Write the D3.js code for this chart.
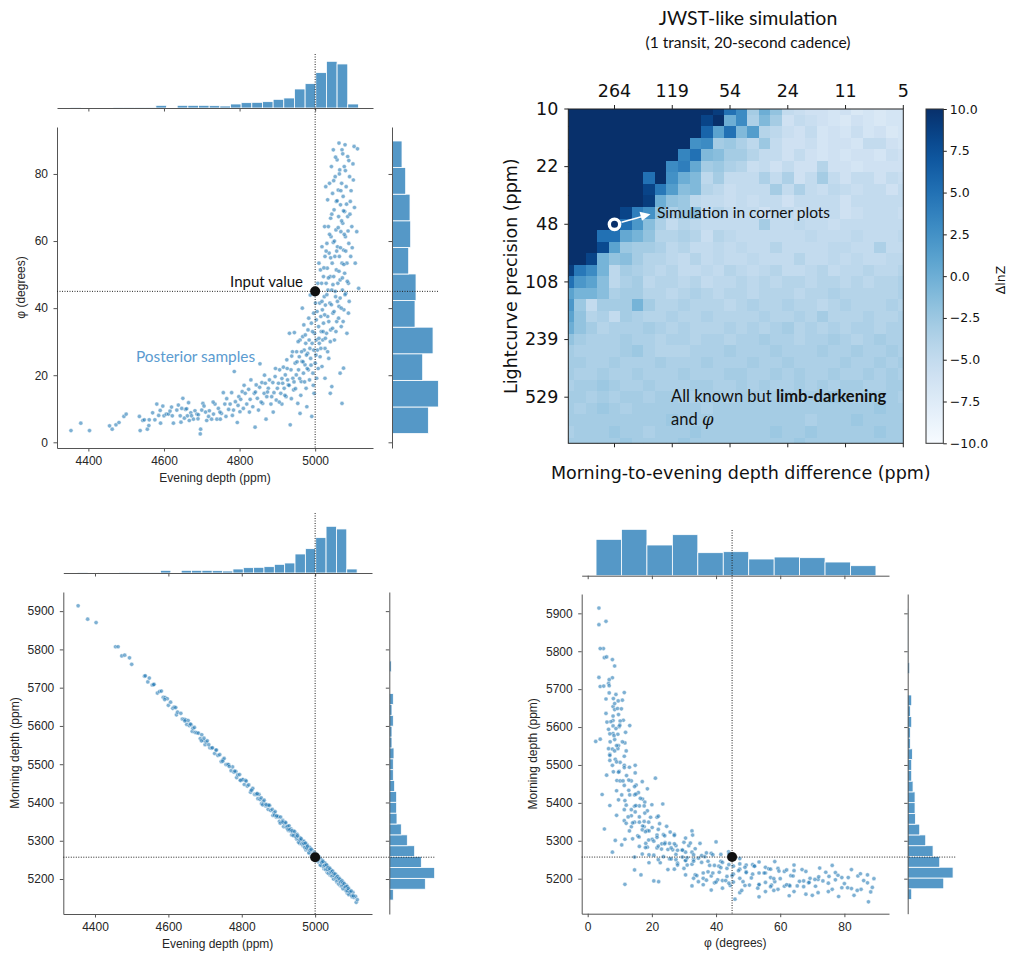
<!DOCTYPE html>
<html>
<head>
<meta charset="utf-8">
<script src="https://cdn.jsdelivr.net/npm/d3@7"></script>
<style>
body { margin: 0; background: #fff; }
svg text { font-family: "Liberation Sans", Arial, sans-serif; }
.ann { font-family: Lato, "Noto Sans", sans-serif; }
.dv { font-family: "DejaVu Sans", sans-serif; }
</style>
</head>
<body>
<script>
// ---------- data ----------

// posterior samples: [evening depth (ppm), phi (deg), morning depth (ppm)]
var posterior = [
[4354,3.5,5914],[4380,5.7,5879],[4403,3.5,5870],[4456,4.9,5807],[4463,3.9,5807],[4473,5.2,5783],[4481,5.9,5785],[4494,7.7,5778],[4500,8.4,5761],[4535,7.7,5730],
[4537,3.5,5731],[4544,6.5,5715],[4548,6.7,5725],[4556,3.9,5707],[4561,6.7,5709],[4570,8.8,5686],[4576,6.7,5690],[4581,11.4,5691],[4586,8.0,5675],[4591,5.7,5674],
[4597,10.8,5671],[4600,7.9,5654],[4606,8.4,5662],[4612,8.4,5646],[4616,9.3,5649],[4622,7.9,5629],[4625,5.7,5636],[4634,9.6,5633],[4638,11.1,5618],[4643,7.9,5617],
[4647,10.1,5616],[4650,13.1,5604],[4654,7.2,5614],[4657,9.8,5601],[4662,7.9,5603],[4665,11.8,5586],[4667,6.5,5594],[4671,8.8,5596],[4673,7.9,5583],[4678,6.9,5582],
[4682,9.4,5581],[4687,8.4,5567],[4691,8.2,5577],[4696,2.5,5562],[4697,3.9,5568],[4700,9.6,5551],[4703,11.6,5558],[4706,10.8,5561],[4713,6.5,5543],[4718,7.7,5542],
[4720,9.4,5543],[4726,6.9,5528],[4731,8.4,5537],[4735,11.4,5523],[4740,6.9,5525],[4744,10.1,5507],[4749,6.9,5512],[4752,8.6,5515],[4757,14.8,5499],[4761,11.4,5499],
[4764,7.7,5499],[4771,9.8,5483],[4775,11.4,5493],[4779,14.8,5479],[4784,9.6,5481],[4786,21.1,5465],[4789,12.1,5472],[4794,5.9,5473],[4798,13.6,5458],[4801,9.1,5459],
[4803,12.8,5460],[4807,15.1,5447],[4810,10.1,5458],[4815,14.6,5443],[4819,11.4,5446],[4824,15.8,5427],[4828,12.8,5433],[4830,18.6,5437],[4835,10.6,5421],[4839,14.6,5421],
[4841,4.5,5422],[4844,17.1,5410],[4847,13.1,5421],[4850,9.6,5408],[4853,16.4,5412],[4854,23.4,5397],[4859,17.8,5402],[4861,11.6,5406],[4865,14.6,5391],[4868,17.6,5392],
[4870,6.9,5393],[4872,13.6,5382],[4876,16.1,5392],[4879,18.6,5379],[4883,11.4,5382],[4885,13.6,5366],[4888,17.8,5373],[4891,14.8,5376],[4894,19.6,5362],[4897,12.6,5363],
[4900,16.1,5363],[4903,17.6,5351],[4906,21.6,5362],[4909,14.6,5349],[4912,11.4,5353],[4914,17.6,5337],[4916,22.4,5345],[4918,16.1,5349],[4921,20.1,5335],[4923,13.6,5337],
[4925,24.6,5338],[4927,18.6,5327],[4929,17.1,5339],[4932,32.5,5326],[4934,5.2,5331],[4936,21.6,5315],[4938,25.7,5323],[4941,19.1,5326],[4943,15.6,5313],[4945,32.7,5315],
[4947,23.6,5316],[4950,20.1,5304],[4951,27.0,5317],[4954,11.6,5304],[4956,21.6,5309],[4958,25.5,5293],[4960,8.6,5301],[4960,30.5,5307],[4963,18.1,5293],[4965,24.1,5295],
[4966,40.0,5297],[4967,31.5,5287],[4969,20.6,5299],[4971,27.5,5287],[4973,23.1,5292],[4975,29.5,5276],[4976,16.1,5285],[4978,10.6,5289],[4980,26.5,5276],[4981,33.5,5279],
[4982,21.6,5281],[4984,30.5,5270],[4985,18.6,5283],[4987,43.9,5271],[4988,25.0,5277],[4990,35.5,5261],[4991,7.7,5270],[4992,29.5,5275],[4994,20.6,5262],[4996,27.5,5264],
[4996,38.5,5267],[4997,14.6,5257],[4998,32.5,5270],[5000,23.6,5258],[5001,41.5,5264],[5003,30.5,5248],[5003,36.5,5258],[5004,19.1,5263],[5006,27.5,5250],[5007,47.4,5253],
[5009,34.5,5254],[5010,53.4,5244],[5011,29.5,5257],[5012,41.5,5246],[5013,25.5,5252],[5014,51.4,5237],[5015,37.5,5246],[5016,33.0,5251],[5017,47.4,5239],[5018,22.6,5242],
[5018,58.3,5245],[5019,39.5,5235],[5020,30.5,5248],[5022,49.4,5236],[5022,35.5,5243],[5024,43.4,5227],[5025,64.3,5236],[5026,28.0,5241],[5026,55.4,5230],[5027,40.9,5233],
[5028,76.2,5235],[5029,47.4,5225],[5030,32.5,5238],[5031,59.3,5227],[5032,51.9,5233],[5033,37.5,5218],[5033,72.3,5228],[5034,45.4,5233],[5035,64.3,5221],[5036,25.0,5224],
[5037,56.4,5226],[5038,77.2,5216],[5039,41.5,5229],[5040,49.4,5218],[5041,66.8,5224],[5041,33.5,5210],[5042,61.3,5219],[5043,82.2,5224],[5044,45.4,5212],[5045,53.4,5215],
[5046,74.2,5217],[5047,38.5,5207],[5048,59.6,5220],[5048,87.2,5210],[5049,49.4,5216],[5050,69.3,5201],[5051,30.5,5210],[5052,55.4,5215],[5053,79.2,5203],[5054,43.4,5206],
[5055,63.3,5208],[5056,71.8,5198],[5056,51.4,5212],[5057,36.0,5201],[5058,84.2,5207],[5059,58.3,5192],[5060,47.4,5201],[5061,75.2,5206],[5062,67.3,5194],[5063,40.5,5197],
[5063,89.2,5200],[5064,55.4,5190],[5065,81.2,5203],[5066,48.4,5192],[5067,70.8,5198],[5068,62.8,5183],[5069,34.5,5192],[5070,77.2,5197],[5071,53.4,5185],[5071,87.2,5189],
[5072,45.4,5191],[5073,65.3,5181],[5074,73.3,5194],[5075,57.3,5183],[5076,39.5,5189],[5077,82.2,5174],[5078,50.4,5183],[5078,68.8,5189],[5079,88.7,5177],[5080,61.3,5180],
[5081,44.4,5182],[5082,76.2,5172],[5084,53.4,5184],[5086,85.2,5172],[5086,67.3,5179],[5088,47.4,5163],[5089,59.3,5172],[5091,79.2,5176],[5093,71.8,5163],[5094,55.4,5166],
[5097,64.3,5166],[5101,78.2,5153],[5103,88.2,5165],[5106,53.4,5152],[5110,62.8,5155],[5112,87.5,5139],[5115,45.9,5146],[5075,22.1,5192],[5071,11.6,5185],[5066,20.6,5194],
[5040,14.6,5223],[5044,16.6,5210],[5026,19.1,5242],[5088,38.5,5170],[5084,32.5,5181],
[4905,12,5346],[4912,19,5349],[4920,14,5347],[4926,22,5330],[4931,17,5329],[4937,13,5326],[4940,27,5314],[4944,18,5324],[4948,16,5310],[4952,24,5313],
[4955,30,5296],[4959,19,5302],[4962,14,5305],[4964,27,5292],[4968,24,5292],[4970,35,5293],[4972,18,5282],[4974,32,5294],[4977,26,5281],[4979,22,5286],
[4983,37,5268],[4986,28,5275],[4989,23,5278],[4993,33,5263],[4995,17,5265],[4998,44,5265],[5002,26,5252],[5005,39,5263],[5008,22,5250],[5010,31,5255],
[5015,28,5236],[5018,42,5243],[5021,33,5246],[5023,52,5233],[5025,38,5235],[5027,31,5236],[5029,57,5225],[5031,44,5237],[5033,27,5225],[5035,49,5230],
[5036,36,5215],[5038,62,5223],[5040,30,5227],[5041,55,5215],[5043,41,5217],[5044,68,5219],[5046,34,5208],[5047,47,5221],[5049,78,5209],[5050,39,5215],
[5051,60,5200],[5053,45,5208],[5054,85,5213],[5055,33,5201],[5057,57,5203],[5058,72,5205],[5059,42,5195],[5061,64,5207],[5062,37,5196],[5063,51,5202],
[5064,80,5187],[5066,43,5195],[5067,58,5200],[5068,75,5188],[5069,40,5191],[5070,66,5193],[5072,49,5182],[5073,86,5195],[5074,36,5184],[5075,69,5190],
[5076,53,5175],[5077,62,5184],[5079,44,5188],[5080,81,5176],[5081,57,5179],[5083,71,5180],[5085,48,5169],[5087,63,5181],[5089,84,5169],[5090,42,5175],
[5092,68,5159],[5095,75,5166],[5098,58,5169],[5100,83,5156],[5104,70,5156],
[4560,5,5708],[4590,9.5,5669],[4620,10.5,5648],[4645,6,5613],[4660,10,5605],[4690,7,5561],[4710,9,5551],[4730,12,5537],[4748,9,5508],[4766,13,5494],
[4781,8,5482],[4796,11,5458],[4812,17,5456],[4826,9,5432],[4842,15,5423],[4857,12,5394],[4866,20,5395],[4874,15,5393],[4889,9,5367],[4895,22,5365]
];

var inputEvening = 5000, inputPhi = 45, inputMorning = 5257;

// marginal histograms (bar heights)
var eveningHist = [1,2,0,0,1,1,1,1,8,2,8,8,8,7,6,12,16,17,19,26,30,57,73,106,140,132,12];
var eveningBin0 = 4353, eveningBinW = 28.2;
var phiHist = [109,139,92,123,69,72,50,56,54,41,30];
var phiBin0 = 2.6, phiBinW = 7.93;
var morningHist = [12,108,136,96,76,54,36,23,22,22,16,12,12,14,8,8,12,8,12,0,0,6,1,1,1,1,1];
var morningBin0 = 5145, morningBinW = 28.4;

// heatmap grid
var depthDiff = [500.0,426.6,364.0,310.5,264.9,226.0,192.8,164.5,140.4,119.8,102.2,87.2,74.4,63.4,54.1,
                 46.2,39.4,33.6,28.7,24.5,20.9,17.8,15.2,13.0,11.1,9.4,8.1,6.9,5.9,5.0];
var precision = [10.0,11.7,13.7,16.1,18.9,22.1,25.9,30.4,35.6,41.8,48.9,57.4,67.2,78.8,92.4,
                 108.3,126.9,148.7,174.3,204.3,239.5,280.7,329.0,385.7,452.0,529.8,621.0,727.9,853.2,1000.0];
var diffTicks = [264.9,119.8,54.1,24.5,11.1,5.0];
var precTicks = [10.0,22.1,48.9,108.3,239.5,529.8];
var cbarTicks = [-10,-7.5,-5,-2.5,0,2.5,5,7.5,10];

// delta lnZ, rows = precision (top to bottom), cols = depth difference (left to right)
var lnZ = [
[10,10,10,10,10,10,10,10,10,10,10,10,10,9,5,3,-3,0,-2,-5,-5.5,-6,-6,-6.5,-6,-7,-6.5,-7,-6.5,-6.5],
[10,10,10,10,10,10,10,10,10,10,10,10,8.5,10,0,3,-3.5,-1,-3,-6,-5,-5.5,-6,-6.5,-7,-6,-6.5,-7,-6.5,-6.5],
[10,10,10,10,10,10,10,10,10,10,10,10,6,1,5,-1,1.5,-4,-4.5,-5.5,-6,-5,-6.5,-6,-6.5,-5.5,-6.5,-6,-7,-6.5],
[10,10,10,10,10,10,10,10,10,10,10,2.5,3,-3,-2.5,-3.5,-4.5,-2.5,-5,-6,-6,-5.5,-6.5,-6,-6,-6.5,-5,-5,-6,-6.5],
[10,10,10,10,10,10,10,10,10,10,3.5,5,-1,-1.5,-3,-3,-4,-5,-5,-6,-5,-6,-6.5,-6,-6.5,-6,-6,-6.5,-5.5,-6],
[10,10,10,10,10,10,10,10,10,3,4,0.5,-3,-2.5,-3.5,-4,-5.5,-5,-6,-5,-6,-6,-4,-6,-6,-6.5,-6,-6,-6,-6],
[10,10,10,10,10,10,10,5,10,2.5,0,-1,-4.5,-3,-5,-5,-5,-3.5,-5,-3.5,-6,-5,-3,-5,-6,-5,-5,-6,-5,-5.5],
[10,10,10,10,10,10,10,8.5,4.5,1.5,-1.5,-1,-4,-4.5,-5.5,-5,-5,-5,-3,-5,-3.5,-5,-5.5,-4.5,-5,-5.5,-5,-5,-6,-5],
[10,10,10,10,10,10,10,9,0,-2,-2.5,-4.5,-5,-5,-5.5,-5,-5.5,-5,-5,-6,-5,-5,-5,-5,-6,-5,-5,-5,-5,-5],
[10,10,10,10,10,8.5,4,2.5,-2,-3.5,-2.5,-1.5,-5,-4,-5,-5,-5,-6,-5,-5,-5.5,-5,-5,-5,-6,-5.5,-5,-5,-5,-5.5],
[10,10,10,10,10,5,2,-1.5,-3.5,-5,-4,-4.5,-5,-5,-5,-5,-5,-3,-5,-5,-4.5,-5,-5,-5.5,-5,-5,-5,-5,-5,-5],
[10,10,10,5,5,0.5,-0.5,-2,-4,-4,-3.5,-4,-5.5,-4,-4.5,-5,-5,-5,-5,-5,-5,-4.5,-5,-5,-5,-4.5,-5,-5,-5,-4.5],
[10,10,10,8,1,-2.5,-3,-3,-3.5,-4.5,-4,-5,-5,-4.5,-5,-4.5,-5,-5,-4,-5,-5,-5,-5,-4.5,-4.5,-5,-5,-3.5,-5,-5],
[10,10,8.5,-0.5,-2,-1.5,-3,-4,-4,-4.5,-5,-4,-5,-4.5,-5,-5,-4.5,-5,-5,-5,-4,-5,-5,-4.5,-5,-4.5,-5,-5,-4.5,-4.5],
[9,4.5,3,-0.5,-4.5,-3,-3.5,-4,-4.5,-4,-5,-5,-4.5,-5,-4,-4.5,-5,-4.5,-4,-5,-5,-4.5,-4,-5,-4.5,-4.5,-4,-4.5,-4.5,-4],
[5,2,1,-1.5,-4.5,-3.5,-3,-4.5,-4,-4,-4.5,-4,-5,-4.5,-4.5,-4,-4.5,-4,-4.5,-4,-4,-4.5,-4,-4,-4.5,-4,-4.5,-4,-4,-3.5],
[1,-0.5,-0.5,-1.5,-3.5,-3,-3,-4,-4,-4.5,-4,-3.5,-4,-4.5,-4,-4,-4.5,-4,-4,-4,-4.5,-4,-4,-3.5,-4,-4,-4,-4,-4,-3.5],
[2,-2.5,-5,-3,-3,-3,-0.5,-3,-4,-4,-3.5,-4,-4,-4,-4.5,-4,-3.5,-4,-4,-3.5,-4,-4,-4.5,-4,-3.5,-4,-4,-4,-3.5,-4],
[1,-2,-4,-3.5,-5,-3,-3.5,-4,-4,-3.5,-4,-4,-3.5,-4,-4,-4,-4,-3.5,-4,-4,-3.5,-4,-3,-4,-4,-4,-3.5,-4,-4,-3.5],
[0,-2,-3,-4,-3.5,-3.5,-3.5,-3,-3.5,-4,-3.5,-4,-4,-4,-3.5,-4,-3.5,-4,-3.5,-3,-4,-3.5,-4,-3.5,-4,-3.5,-3.5,-4,-3.5,-3.5],
[-2,-3,-3.5,-3.5,-3.5,-3,-3.5,-3.5,-4,-3.5,-3.5,-4,-3.5,-3.5,-4,-3.5,-3.5,-3,-3.5,-3.5,-4,-3.5,-3.5,-3,-3.5,-4,-3.5,-3,-3.5,-3.5],
[-3,-3.5,-3.5,-3.5,-3.5,-3,-2.5,-3.5,-4,-4,-4,-3.5,-3.5,-3.5,-3,-3.5,-3.5,-3.5,-3,-3.5,-3.5,-3.5,-3,-3.5,-3.5,-3,-3.5,-3.5,-3,-3.5],
[-3,-3,-3.5,-3.5,-3,-3.5,-3.5,-3.5,-3,-3.5,-3.5,-3.5,-3,-3.5,-3.5,-3.5,-3,-3.5,-3.5,-3,-3.5,-3.5,-3.5,-3.5,-3,-3.5,-3.5,-3,-3.5,-3],
[-3,-3.5,-3.5,-3,-3.5,-3.5,-3,-3.5,-3.5,-3.5,-3,-3.5,-3.5,-3.5,-3,-3,-3.5,-3.5,-3,-3.5,-3,-3.5,-3.5,-3,-3.5,-3.5,-3,-3.5,-3,-3.5],
[-3.5,-3,-3,-2.5,-3,-3.5,-3.5,-3,-3.5,-3.5,-3.5,-3,-3,-3.5,-3.5,-3,-3.5,-3,-3.5,-3.5,-3,-3.5,-3,-3.5,-3,-3,-3.5,-3.5,-3,-3],
[-3,-3,-3.5,-3,-3.5,-3,-3,-3.5,-3,-3,-3.5,-3.5,-3,-3,-3.5,-3,-3,-3.5,-3,-3,-3.5,-3,-3,-2.5,-3,-3.5,-3,-3,-3,-3.5],
[-3,-3.5,-3,-2.5,-3,-3.5,-3,-3,-3,-3,-3,-3,-3.5,-3,-3,-3,-3,-3,-3,-3,-3,-3,-3,-3,-3,-3,-3,-2.5,-3,-3],
[-3,-3,-3,-3,-3,-3,-3,-3,-3,-2.5,-3,-3,-3,-3,-3,-3,-3,-3,-3,-3,-3,-3.5,-3,-3,-3,-2.5,-3,-3,-3,-3],
[-3.5,-3,-3,-3,-2.5,-3,-3,-3.5,-3,-3,-3,-2.5,-3,-3,-3,-3,-3,-3,-2.5,-3,-3,-2.5,-3,-3,-3,-3,-3,-2.5,-3,-3],
[-3,-3,-3,-3,-3,-2.5,-3,-3,-3,-3,-2.5,-3,-3,-3,-3,-3,-3,-3,-3,-3,-2.5,-3,-3,-3,-3,-3,-3,-3,-3,-3]
];

// ---------- drawing ----------
var svg = d3.select('body').append('svg').attr('width', 1010).attr('height', 953);
var barFill = '#5598c7';
var hLen = d3.scaleLinear().domain([0, 140]).range([0, 46.7]);

function styleAxis(g, size) {
    g.selectAll('.domain, .tick line').attr('stroke', '#555').attr('stroke-width', 1);
    g.selectAll('text').attr('fill', '#262626').style('font-size', size + 'px');
}

function corner(p) {
    var x = d3.scaleLinear().domain(p.xDom).range([p.x0, p.x1]);
    var y = d3.scaleLinear().domain(p.yDom).range([p.y1, p.y0]);
    var g = svg.append('g');

    // top marginal
    var th = p.topHist;
    g.append('g').selectAll('rect').data(th.counts).enter().append('rect')
        .attr('x', (d, i) => x(th.start + i * th.w))
        .attr('width', x(th.start + th.w) - x(th.start))
        .attr('y', d => p.topBase - hLen(d))
        .attr('height', d => hLen(d))
        .attr('fill', barFill).attr('stroke', '#fff').attr('stroke-width', 0.8);
    var ta = g.append('g').attr('transform', `translate(0,${p.topBase})`)
        .call(d3.axisBottom(x).tickValues(p.xTicks).tickFormat('').tickSize(3.5).tickSizeOuter(0));
    styleAxis(ta, 12);

    // right marginal
    var rh = p.rightHist;
    g.append('g').selectAll('rect').data(rh.counts).enter().append('rect')
        .attr('y', (d, i) => y(rh.start + (i + 1) * rh.w))
        .attr('height', y(rh.start) - y(rh.start + rh.w))
        .attr('x', p.rightSpine)
        .attr('width', d => hLen(d))
        .attr('fill', barFill).attr('stroke', '#fff').attr('stroke-width', 0.8);
    var ra = g.append('g').attr('transform', `translate(${p.rightSpine},0)`)
        .call(d3.axisLeft(y).tickValues(p.yTicks).tickFormat('').tickSize(3.5).tickSizeOuter(0));
    styleAxis(ra, 12);

    // main axes
    var xa = g.append('g').attr('transform', `translate(0,${p.y1})`)
        .call(d3.axisBottom(x).tickValues(p.xTicks).tickFormat(d => String(d)).tickSize(3.5).tickPadding(5).tickSizeOuter(0));
    styleAxis(xa, 12);
    var ya = g.append('g').attr('transform', `translate(${p.x0},0)`)
        .call(d3.axisLeft(y).tickValues(p.yTicks).tickFormat(d => String(d)).tickSize(3.5).tickPadding(5.5).tickSizeOuter(0));
    styleAxis(ya, 12);

    g.append('text').attr('x', (p.x0 + p.x1) / 2).attr('y', p.xLabelY)
        .attr('text-anchor', 'middle').attr('fill', '#262626').style('font-size', '12px').text(p.xLabel);
    g.append('text').attr('transform', `translate(${p.yLabelX},${(p.y0 + p.y1) / 2}) rotate(-90)`)
        .attr('text-anchor', 'middle').attr('fill', '#262626').style('font-size', '12px').text(p.yLabel);

    // samples
    g.append('g').selectAll('circle').data(posterior).enter().append('circle')
        .attr('cx', d => x(d[p.xi])).attr('cy', d => y(d[p.yi])).attr('r', 2.1)
        .attr('fill', '#1f77b4').attr('fill-opacity', 0.58)
        .attr('stroke', '#fff').attr('stroke-width', 0.4);

    // input value guides
    g.append('line').attr('x1', x(p.inX)).attr('x2', x(p.inX)).attr('y1', p.vTop).attr('y2', p.y1)
        .attr('stroke', '#222').attr('stroke-width', 1).attr('stroke-dasharray', '1,1.5');
    g.append('line').attr('y1', y(p.inY)).attr('y2', y(p.inY)).attr('x1', p.x0).attr('x2', p.hRight)
        .attr('stroke', '#222').attr('stroke-width', 1).attr('stroke-dasharray', '1,1.5');
    g.append('circle').attr('cx', x(p.inX)).attr('cy', y(p.inY)).attr('r', 5).attr('fill', '#111');

    return { x: x, y: y, g: g };
}

var evHist = { counts: eveningHist, start: eveningBin0, w: eveningBinW };
var phHist = { counts: phiHist, start: phiBin0, w: phiBinW };
var moHist = { counts: morningHist, start: morningBin0, w: morningBinW };

var A = corner({
    x0: 57, x1: 373, y0: 127, y1: 448, xDom: [4317, 5153], yDom: [-1.7, 94],
    topBase: 108, rightSpine: 392, vTop: 54, hRight: 438,
    xTicks: [4400, 4600, 4800, 5000], yTicks: [0, 20, 40, 60, 80],
    topHist: evHist, rightHist: phHist, xi: 0, yi: 1, inX: inputEvening, inY: inputPhi,
    xLabel: 'Evening depth (ppm)', xLabelY: 482, yLabel: 'φ (degrees)', yLabelX: 25
});
var B = corner({
    x0: 63.3, x1: 372, y0: 592, y1: 914, xDom: [4313.6, 5155], yDom: [5108.6, 5950],
    topBase: 573, rightSpine: 389.3, vTop: 513, hRight: 435,
    xTicks: [4400, 4600, 4800, 5000], yTicks: [5200, 5300, 5400, 5500, 5600, 5700, 5800, 5900],
    topHist: evHist, rightHist: moHist, xi: 0, yi: 2, inX: inputEvening, inY: inputMorning,
    xLabel: 'Evening depth (ppm)', xLabelY: 948, yLabel: 'Morning depth (ppm)', yLabelX: 19
});
var C = corner({
    x0: 581.7, x1: 889, y0: 594, y1: 913.7, xDom: [-1.87, 93.9], yDom: [5107.6, 5951],
    topBase: 575.7, rightSpine: 907.7, vTop: 530, hRight: 956.7,
    xTicks: [0, 20, 40, 60, 80], yTicks: [5200, 5300, 5400, 5500, 5600, 5700, 5800, 5900],
    topHist: phHist, rightHist: moHist, xi: 1, yi: 2, inX: inputPhi, inY: inputMorning,
    xLabel: 'φ (degrees)', xLabelY: 946.7, yLabel: 'Morning depth (ppm)', yLabelX: 537
});

// annotations in panel A
A.g.append('text').attr('class', 'ann').attr('x', 303).attr('y', 287).attr('text-anchor', 'end')
    .attr('fill', '#111').style('font-size', '15px').text('Input value');
A.g.append('text').attr('class', 'ann').attr('x', 136).attr('y', 362)
    .attr('fill', '#5b9bd0').style('font-size', '15.4px').text('Posterior samples');

// ---------- heatmap ----------
var hm = { x0: 568.3, x1: 903.3, y0: 109, y1: 443.3 };
var cw = (hm.x1 - hm.x0) / 29, ch = (hm.y1 - hm.y0) / 29;
var xH = d3.scaleBand().domain(depthDiff).range([hm.x0 - cw / 2, hm.x1 + cw / 2]);
var yH = d3.scaleBand().domain(precision).range([hm.y0 - ch / 2, hm.y1 + ch / 2]);
var color = d3.scaleSequential(d3.interpolateBlues).domain([-10, 10]).clamp(true);

var defs = svg.append('defs');
defs.append('clipPath').attr('id', 'hmclip').append('rect')
    .attr('x', hm.x0).attr('y', hm.y0).attr('width', hm.x1 - hm.x0).attr('height', hm.y1 - hm.y0);

var cells = [];
lnZ.forEach((row, r) => row.forEach((v, c) => cells.push({ r: r, c: c, v: v })));
var heat = svg.append('g').attr('clip-path', 'url(#hmclip)');
heat.selectAll('rect').data(cells).enter().append('rect')
    .attr('x', d => xH(depthDiff[d.c])).attr('y', d => yH(precision[d.r]))
    .attr('width', xH.bandwidth() + 0.4).attr('height', yH.bandwidth() + 0.4)
    .attr('fill', d => color(d.v)).attr('shape-rendering', 'crispEdges');

svg.append('rect').attr('x', hm.x0).attr('y', hm.y0).attr('width', hm.x1 - hm.x0).attr('height', hm.y1 - hm.y0)
    .attr('fill', 'none').attr('stroke', '#222').attr('stroke-width', 1);

var fmtFloor = d => String(Math.floor(d));
var hx = svg.append('g').attr('transform', `translate(0,${hm.y0})`)
    .call(d3.axisTop(xH).tickValues(diffTicks).tickFormat(fmtFloor).tickSize(4).tickPadding(8).tickSizeOuter(0));
var hxb = svg.append('g').attr('transform', `translate(0,${hm.y1})`)
    .call(d3.axisBottom(xH).tickValues(diffTicks).tickFormat('').tickSize(4).tickSizeOuter(0));
var hy = svg.append('g').attr('transform', `translate(${hm.x0},0)`)
    .call(d3.axisLeft(yH).tickValues(precTicks).tickFormat(fmtFloor).tickSize(4).tickPadding(6).tickSizeOuter(0));
[hx, hxb, hy].forEach(a => {
    a.select('.domain').remove();
    a.selectAll('.tick line').attr('stroke', '#222');
    a.selectAll('text').attr('fill', '#111').style('font-size', '17.5px').style('font-family', '"DejaVu Sans", sans-serif');
});

svg.append('text').attr('x', (hm.x0 + hm.x1) / 2 + 5).attr('y', 479)
    .attr('text-anchor', 'middle').attr('fill', '#111').style('font-size', '17.5px')
    .style('font-family', '"DejaVu Sans", sans-serif').text('Morning-to-evening depth difference (ppm)');
svg.append('text').attr('transform', `translate(517,${(hm.y0 + hm.y1) / 2}) rotate(-90)`)
    .attr('text-anchor', 'middle').attr('fill', '#111').style('font-size', '17.5px')
    .style('font-family', '"DejaVu Sans", sans-serif').text('Lightcurve precision (ppm)');

// titles
svg.append('text').attr('class', 'ann').attr('x', 748).attr('y', 25).attr('text-anchor', 'middle')
    .attr('fill', '#111').style('font-size', '19.5px').text('JWST-like simulation');
svg.append('text').attr('class', 'ann').attr('x', 748).attr('y', 48).attr('text-anchor', 'middle')
    .attr('fill', '#111').style('font-size', '15.6px').text('(1 transit, 20-second cadence)');

// corner-plot simulation marker + arrow
var mx = xH(264.9) + xH.bandwidth() / 2, my = yH(48.9) + yH.bandwidth() / 2;
svg.append('line').attr('x1', mx + 7).attr('y1', my - 2).attr('x2', mx + 27).attr('y2', my - 7.5)
    .attr('stroke', '#fff').attr('stroke-width', 1.6);
svg.append('path').attr('d', `M${mx + 36},${my - 10} L${mx + 25},${my - 12.5} L${mx + 27.5},${my - 3.5} Z`).attr('fill', '#fff');
svg.append('circle').attr('cx', mx).attr('cy', my).attr('r', 5.2)
    .attr('fill', '#08306b').attr('stroke', '#fff').attr('stroke-width', 3.4);
svg.append('text').attr('class', 'ann').attr('x', 657).attr('y', 217.5)
    .attr('fill', '#111').style('font-size', '15.5px').text('Simulation in corner plots');

var t1 = svg.append('text').attr('class', 'ann').attr('x', 671).attr('y', 402)
    .attr('fill', '#111').style('font-size', '16.5px');
t1.append('tspan').text('All known but ');
t1.append('tspan').style('font-weight', 700).text('limb-darkening');
var t2 = svg.append('text').attr('class', 'ann').attr('x', 671).attr('y', 425)
    .attr('fill', '#111').style('font-size', '16.5px');
t2.append('tspan').text('and ');
t2.append('tspan').style('font-family', '"DejaVu Serif", serif').style('font-style', 'italic')
    .style('font-weight', 300).text('φ');

// ---------- colorbar ----------
var cb = { x0: 926, x1: 943.3, y0: 109, y1: 443.3 };
var grad = defs.append('linearGradient').attr('id', 'cbgrad')
    .attr('x1', 0).attr('y1', 1).attr('x2', 0).attr('y2', 0);
d3.range(0, 1.0001, 0.05).forEach(t => grad.append('stop').attr('offset', t).attr('stop-color', d3.interpolateBlues(t)));
svg.append('rect').attr('x', cb.x0).attr('y', cb.y0).attr('width', cb.x1 - cb.x0).attr('height', cb.y1 - cb.y0)
    .attr('fill', 'url(#cbgrad)').attr('stroke', '#333').attr('stroke-width', 1);
var cbScale = d3.scaleLinear().domain([-10, 10]).range([cb.y1, cb.y0]);
var cba = svg.append('g').attr('transform', `translate(${cb.x1},0)`)
    .call(d3.axisRight(cbScale).tickValues(cbarTicks).tickFormat(d3.format('.1f')).tickSize(3.5).tickPadding(3).tickSizeOuter(0));
cba.select('.domain').remove();
cba.selectAll('.tick line').attr('stroke', '#222');
cba.selectAll('text').attr('fill', '#111').style('font-size', '12.5px').style('font-family', '"DejaVu Sans", sans-serif');
svg.append('text').attr('transform', `translate(1005,280) rotate(-90)`).attr('text-anchor', 'middle')
    .attr('fill', '#111').style('font-size', '12.5px').style('font-family', '"DejaVu Sans", sans-serif').text('ΔlnZ');
</script>
</body>
</html>
